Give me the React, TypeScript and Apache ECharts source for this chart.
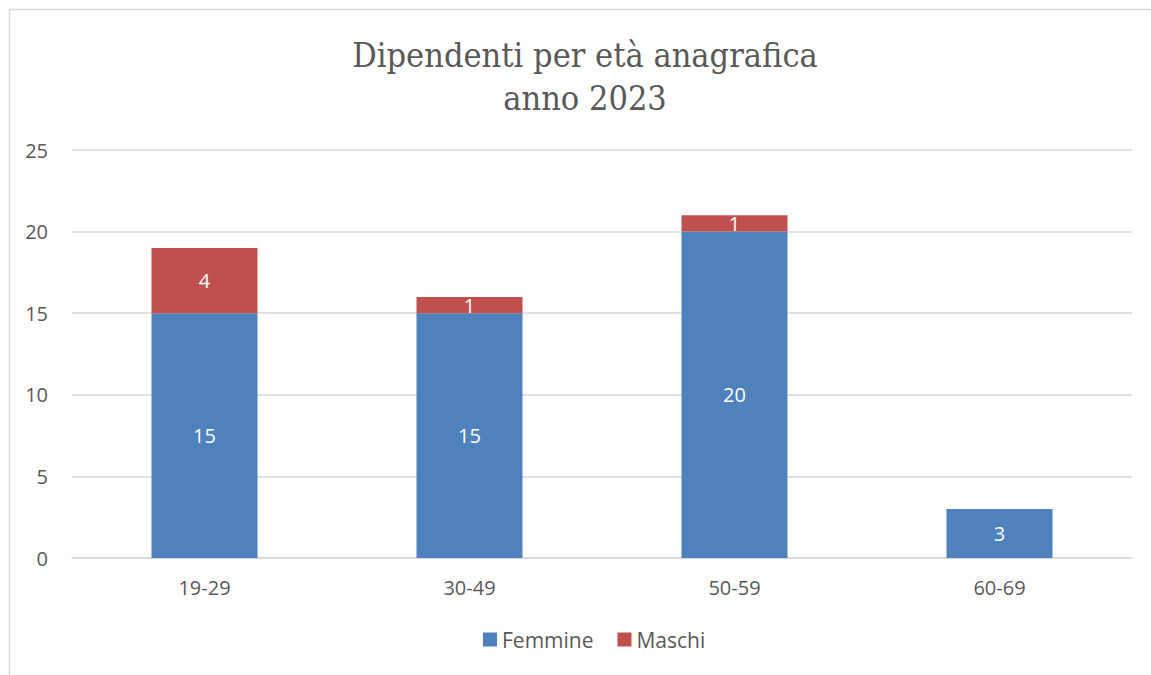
import React, { useEffect, useRef } from "react";
import * as echarts from "echarts";

const categories = ["19-29", "30-49", "50-59", "60-69"];
const femmine = [15, 15, 20, 3];
const maschi = [4, 1, 1, null];
const yTicks = { min: 0, max: 25, interval: 5 };

export default function App() {
  const ref = useRef<HTMLDivElement>(null);
  useEffect(() => {
    document.body.style.margin = "0";
    const chart = echarts.init(ref.current!, null, { renderer: "svg" });
    const sans = "'Open Sans', 'Noto Sans', sans-serif";
    const labelStyle = {
      show: true,
      position: "inside",
      color: "#ffffff",
      fontSize: 20,
      fontFamily: sans,
    };
    chart.setOption({
      animation: false,
      backgroundColor: "#ffffff",
      graphic: [
        {
          type: "rect",
          shape: { x: 9.5, y: 9.5, width: 1300, height: 800 },
          style: { fill: "none", stroke: "#d9d9d9", lineWidth: 1.5 },
          silent: true,
        },
      ],
      title: {
        text: "Dipendenti per età anagrafica\nanno 2023",
        left: 580,
        textAlign: "center",
        top: 28,
        textStyle: {
          fontFamily: "'DejaVu Serif Condensed', 'Liberation Serif', serif",
          fontWeight: "normal",
          fontSize: 34,
          lineHeight: 43,
          color: "#595959",
        },
      },
      legend: {
        bottom: 20,
        left: 478,
        itemWidth: 14,
        itemHeight: 14,
        itemGap: 24,
        icon: "rect",
        textStyle: {
          fontSize: 21,
          color: "#595959",
          fontFamily: sans,
        },
        data: ["Femmine", "Maschi"],
      },
      grid: { left: 72, right: 19, top: 150, bottom: 117, containLabel: false },
      xAxis: {
        type: "category",
        data: categories,
        axisLine: { show: true, lineStyle: { color: "#d9d9d9", width: 1.5 } },
        axisTick: { show: false },
        axisLabel: {
          fontSize: 20,
          color: "#595959",
          margin: 19,
          fontFamily: sans,
        },
      },
      yAxis: {
        type: "value",
        min: yTicks.min,
        max: yTicks.max,
        interval: yTicks.interval,
        axisLine: { show: false },
        axisTick: { show: false },
        splitLine: { lineStyle: { color: "#d9d9d9", width: 1.5 } },
        axisLabel: {
          fontSize: 20,
          color: "#595959",
          margin: 24,
          fontFamily: sans,
        },
      },
      series: [
        {
          name: "Femmine",
          type: "bar",
          stack: "tot",
          barWidth: "40%",
          data: femmine,
          itemStyle: { color: "#4f81bd" },
          label: labelStyle,
        },
        {
          name: "Maschi",
          type: "bar",
          stack: "tot",
          barWidth: "40%",
          data: maschi,
          itemStyle: { color: "#c0504d" },
          label: labelStyle,
        },
      ],
    });
    return () => chart.dispose();
  }, []);
  return <div ref={ref} style={{ width: 1151, height: 675 }} />;
}
